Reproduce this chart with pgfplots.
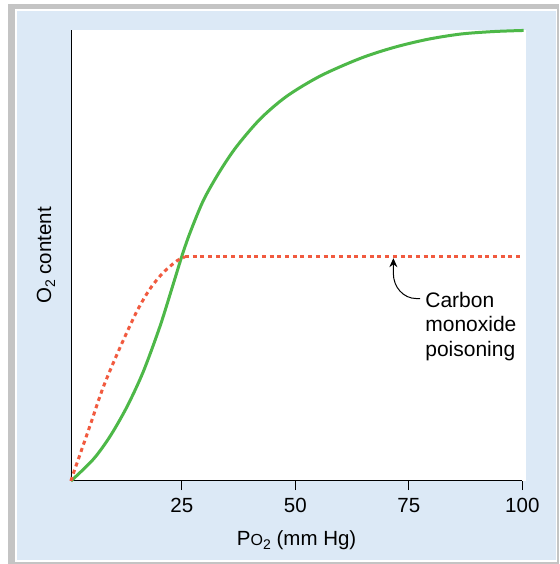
\documentclass[border=0pt]{standalone}
\usepackage{fontspec}
\setmainfont{Liberation Sans}
\usepackage{pgfplots}
\pgfplotsset{compat=1.18}
\usetikzlibrary{arrows.meta}
\definecolor{panelblue}{HTML}{DCE9F6}
\definecolor{curvegreen}{HTML}{4DB848}
\definecolor{cored}{HTML}{F15A3F}
\definecolor{framegray}{HTML}{C4C4C4}

\pgfplotstableread{
x y
0.6 0
5.5 4.8
9.2 9.9
12.9 16.4
16.5 24.2
20.2 34.3
23.1 43.6
25.0 49.8
26.8 55.0
29.8 62.3
33.4 68.7
37.1 74.2
42.3 80.3
48.1 85.3
55.5 89.8
64.3 93.7
71.6 96.1
79.0 97.9
86.4 99.1
93.6 99.65
100.3 99.9
}\normalcurve

\pgfplotstableread{
x y
0.6 0
1.1 1.6
4.8 12.3
7.7 20.8
11.4 29.6
15.1 37.6
18.0 42.6
20.9 46.2
23.9 48.8
25.7 49.7
}\corise

\pgfplotstableread{
x y
25.7 49.7
100 49.7
}\coflat

\begin{document}
\begin{tikzpicture}[x=1pt,y=1pt]
\path[use as bounding box] (0,0) rectangle (559,564);
\fill[framegray] (8,0) rectangle (559,560);
\fill[white] (15,2) rectangle (557,555);
\fill[panelblue] (17,4) rectangle (556,553);
\fill[white] (71,83) rectangle (525.7,534);
\begin{axis}[
  at={(71pt,83pt)}, anchor=south west,
  scale only axis, width=451.3pt, height=451pt,
  xmin=0.6, xmax=100, ymin=0, ymax=100,
  axis x line=bottom, axis y line=left,
  axis line style={black, line width=1pt, -},
  xtick={25,50,75,100}, ytick=\empty,
  tick align=outside, major tick length=9pt,
  tick style={black, line width=1pt},
  clip=false,
  /pgf/number format/assume math mode=true,
  every tick label/.append style={font=\fontsize{20.5}{24}\selectfont},
  xticklabel style={anchor=north, inner sep=0pt, yshift=-8.3pt},
  xlabel={P{\fontsize{16}{16}\selectfont O}\raisebox{-4pt}{\fontsize{14}{14}\selectfont 2} (mm Hg)},
  xlabel style={at={(axis description cs:0.5,-0.1435)}, anchor=base, inner sep=0pt, font=\fontsize{20.5}{24}\selectfont},
  ylabel={O\raisebox{-4pt}{\fontsize{14}{14}\selectfont 2} content},
  ylabel style={at={(axis description cs:-0.0443,0.5)}, anchor=base, rotate=0, inner sep=0pt, font=\fontsize{20.5}{24}\selectfont},
]
\addplot[curvegreen, line width=3pt, smooth] table {\normalcurve};
\addplot[cored, line width=3pt, dash pattern=on 4pt off 3.7pt, smooth] table {\corise};
\addplot[cored, line width=3pt, dash pattern=on 4pt off 3.7pt] table {\coflat};
\draw[black, line width=1pt, -{Stealth[length=9pt,width=8pt]}]
  (axis cs:77.5,40.45) -- (axis cs:76.7,40.45) to[out=180,in=-90] (axis cs:71.6,46.0) -- (axis cs:71.6,49.4);
\node[anchor=north west, inner sep=0pt, align=left, font=\fontsize{21}{24.5}\selectfont]
  at (axis cs:78.6,41.97) {Carbon\\monoxide\\poisoning};
\end{axis}
\end{tikzpicture}
\end{document}
